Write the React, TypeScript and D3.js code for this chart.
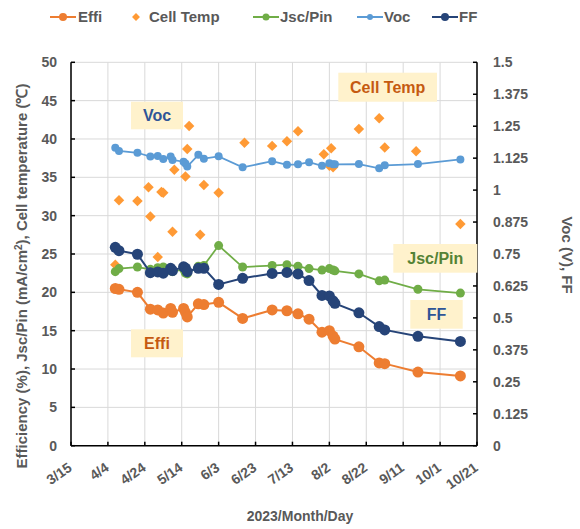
import React from 'react';
import * as d3 from 'd3';

// measurement days shared by the line series
const dates = [
  '2023-04-08', '2023-04-10', '2023-04-20', '2023-04-27', '2023-05-01', '2023-05-04', '2023-05-08',
  '2023-05-09', '2023-05-15', '2023-05-16', '2023-05-17', '2023-05-23', '2023-05-26', '2023-06-03',
  '2023-06-16', '2023-07-02', '2023-07-10', '2023-07-16', '2023-07-22', '2023-07-29', '2023-08-02',
  '2023-08-04', '2023-08-05', '2023-08-18', '2023-08-29', '2023-09-01', '2023-09-19', '2023-10-12',
];
const effi = [20.5, 20.4, 20.0, 17.8, 17.7, 17.3, 17.9, 17.4, 17.9, 17.4, 16.8, 18.5, 18.4, 18.7,
  16.6, 17.7, 17.6, 17.2, 16.5, 14.8, 15.0, 14.3, 13.9, 12.9, 10.8, 10.7, 9.6, 9.1];
const jscPin = [22.7, 23.1, 23.3, 23.0, 23.2, 23.3, 22.8, 22.7, 23.0, 22.5, 22.4, 23.4, 23.5, 26.1,
  23.3, 23.5, 23.6, 23.4, 23.1, 22.9, 23.1, 22.9, 22.8, 22.4, 21.5, 21.6, 20.4, 19.9];
const voc = [1.166, 1.153, 1.146, 1.131, 1.133, 1.122, 1.131, 1.118, 1.111, 1.104, 1.092, 1.138, 1.123, 1.132,
  1.089, 1.113, 1.099, 1.101, 1.109, 1.095, 1.105, 1.101, 1.101, 1.102, 1.085, 1.097, 1.102, 1.120];
const ff = [0.776, 0.763, 0.749, 0.677, 0.680, 0.675, 0.694, 0.685, 0.700, 0.695, 0.681, 0.694, 0.694, 0.631,
  0.655, 0.674, 0.678, 0.672, 0.646, 0.588, 0.586, 0.567, 0.557, 0.520, 0.466, 0.453, 0.428, 0.408];

// cell temperature (markers only)
const tempDates = [
  '2023-04-08', '2023-04-10', '2023-04-20', '2023-04-26', '2023-04-27', '2023-05-01', '2023-05-03',
  '2023-05-04', '2023-05-09', '2023-05-10', '2023-05-16', '2023-05-17', '2023-05-18', '2023-05-24',
  '2023-05-26', '2023-06-03', '2023-06-17', '2023-07-02', '2023-07-10', '2023-07-16', '2023-07-30',
  '2023-08-02', '2023-08-03', '2023-08-04', '2023-08-18', '2023-08-29', '2023-09-01', '2023-09-18',
  '2023-10-12',
];
const cellTemp = [23.6, 32.0, 31.9, 33.7, 29.9, 24.6, 33.1, 33.0, 27.9, 36.0, 35.1, 38.7, 41.7, 27.5,
  34.0, 33.0, 39.5, 39.1, 39.7, 41.0, 38.0, 36.5, 38.8, 36.3, 41.3, 42.7, 38.9, 38.4, 28.9];

const xTickDates = ['2023-03-15', '2023-04-04', '2023-04-24', '2023-05-14', '2023-06-03', '2023-06-23',
  '2023-07-13', '2023-08-02', '2023-08-22', '2023-09-11', '2023-10-01', '2023-10-21'];
const xTickLabels = ['3/15', '4/4', '4/24', '5/14', '6/3', '6/23', '7/13', '8/2', '8/22', '9/11', '10/1', '10/21'];
const leftTicks = [0, 5, 10, 15, 20, 25, 30, 35, 40, 45, 50];
const rightTicks = [0, 0.125, 0.25, 0.375, 0.5, 0.625, 0.75, 0.875, 1, 1.125, 1.25, 1.375, 1.5];

const parse = d3.utcParse('%Y-%m-%d');
const FONT = "'Liberation Sans', Arial, sans-serif";
const GRAY = '#595959';

const C = {
  effi: '#ed7d31',
  temp: '#ff9a35',
  jsc: '#70ad47',
  voc: '#5b9bd5',
  ff: '#264478',
};

const App = () => {
  const left = 71, right = 477, top = 62.3, bottom = 445.7;

  const x = d3.scaleUtc()
    .domain([parse(xTickDates[0])!, parse(xTickDates[xTickDates.length - 1])!])
    .range([left, right]);
  const yL = d3.scaleLinear().domain([0, 50]).range([bottom, top]);
  const yR = d3.scaleLinear().domain([0, 1.5]).range([bottom, top]);

  const xs = dates.map(d => x(parse(d)!));

  const series = [
    { key: 'effi', vals: effi, y: yL, color: C.effi, r: 5.5, w: 2 },
    { key: 'jsc', vals: jscPin, y: yL, color: C.jsc, r: 4.5, w: 1.75 },
    { key: 'voc', vals: voc, y: yR, color: C.voc, r: 4, w: 1.75 },
    { key: 'ff', vals: ff, y: yR, color: C.ff, r: 5.5, w: 2 },
  ];

  const diamond = d3.symbol().type(d3.symbolDiamond2).size(70)();

  const boxes = [
    { text: 'Voc', x: 131, y: 101.7, w: 52, h: 27.6, color: '#2f5597' },
    { text: 'Cell Temp', x: 338.3, y: 72.7, w: 98.7, h: 29, color: '#c55a11' },
    { text: 'Effi', x: 131, y: 329.3, w: 52, h: 28, color: '#c55a11' },
    { text: 'Jsc/Pin', x: 393.3, y: 244, w: 84, h: 28.7, color: '#548235' },
    { text: 'FF', x: 410.3, y: 300, w: 52.4, h: 28.7, color: '#2f5597' },
  ];

  return (
    <svg width={580} height={529} style={{ position: 'absolute', left: 0, top: 0, background: '#fff' }}
      fontFamily={FONT} fontWeight="bold">
      {/* grid */}
      {leftTicks.map(t => (
        <line key={'gh' + t} x1={left} x2={right} y1={yL(t)} y2={yL(t)} stroke="#d9d9d9" strokeWidth={1} />
      ))}
      {xTickDates.map(d => (
        <line key={'gv' + d} x1={x(parse(d)!)} x2={x(parse(d)!)} y1={top} y2={bottom} stroke="#d9d9d9" strokeWidth={1} />
      ))}

      {/* axes */}
      <line x1={left} x2={left} y1={top} y2={bottom} stroke="#000" strokeWidth={1.5} />
      <line x1={right} x2={right} y1={top} y2={bottom} stroke="#000" strokeWidth={1.5} />
      <line x1={left} x2={right} y1={bottom} y2={bottom} stroke="#000" strokeWidth={1.5} />
      {leftTicks.map(t => (
        <g key={'lt' + t}>
          <line x1={left} x2={left + 4} y1={yL(t)} y2={yL(t)} stroke="#000" strokeWidth={1.5} />
          <text x={57} y={yL(t)} dy="0.35em" textAnchor="end" fontSize={14} fill={GRAY}>{t}</text>
        </g>
      ))}
      {rightTicks.map(t => (
        <g key={'rt' + t}>
          <line x1={right - 4} x2={right} y1={yR(t)} y2={yR(t)} stroke="#000" strokeWidth={1.5} />
          <text x={493} y={yR(t)} dy="0.35em" textAnchor="start" fontSize={14} fill={GRAY}>{String(t)}</text>
        </g>
      ))}
      {xTickDates.map((d, i) => {
        const px = x(parse(d)!);
        return (
          <g key={'xt' + d}>
            <line x1={px} x2={px} y1={bottom} y2={bottom - 4} stroke="#000" strokeWidth={1.5} />
            <text transform={`translate(${px + 2},${bottom + 24}) rotate(-35)`} textAnchor="end"
              fontSize={14} fill={GRAY}>{xTickLabels[i]}</text>
          </g>
        );
      })}

      {/* axis titles */}
      <text x={300} y={521} textAnchor="middle" fontSize={14} fill={GRAY}>2023/Month/Day</text>
      <text transform="translate(27,276) rotate(-90)" textAnchor="middle" fontSize={15} fill={GRAY}>
        Efficiency (%), Jsc/Pin (mA/cm<tspan dy={-5} fontSize={10}>2</tspan><tspan dy={5}>), Cell temperature (℃)</tspan>
      </text>
      <text transform="translate(562,255) rotate(90)" textAnchor="middle" fontSize={15} fill={GRAY}>Voc (V), FF</text>

      {/* cell temperature markers */}
      {tempDates.map((d, i) => (
        <path key={'ct' + i} d={diamond!} fill={C.temp}
          transform={`translate(${x(parse(d)!)},${yL(cellTemp[i])})`} />
      ))}

      {/* line series */}
      {series.map(s => {
        const line = d3.line<number>().x((_, i) => xs[i]).y(v => s.y(v));
        return (
          <g key={s.key}>
            <path d={line(s.vals)!} fill="none" stroke={s.color} strokeWidth={s.w} />
            {s.vals.map((v, i) => (
              <circle key={i} cx={xs[i]} cy={s.y(v)} r={s.r} fill={s.color} />
            ))}
          </g>
        );
      })}

      {/* annotation boxes */}
      {boxes.map(b => (
        <g key={'b' + b.text}>
          <rect x={b.x} y={b.y} width={b.w} height={b.h} fill="#fff2cc" />
          <text x={b.x + b.w / 2} y={b.y + b.h / 2} dy="0.36em" textAnchor="middle" fontSize={16} fill={b.color}>{b.text}</text>
        </g>
      ))}

      {/* legend */}
      <g fontSize={15} fill={GRAY}>
        <line x1={50} x2={76} y1={17} y2={17} stroke={C.effi} strokeWidth={2} />
        <circle cx={63} cy={17} r={4} fill={C.effi} />
        <text x={78} y={22}>Effi</text>
        <path d={d3.symbol().type(d3.symbolDiamond2).size(40)()!} fill={C.temp} transform="translate(136,17)" />
        <text x={149} y={22}>Cell Temp</text>
        <line x1={253} x2={279} y1={17} y2={17} stroke={C.jsc} strokeWidth={2} />
        <circle cx={266} cy={17} r={3.5} fill={C.jsc} />
        <text x={280} y={22}>Jsc/Pin</text>
        <line x1={357} x2={383} y1={17} y2={17} stroke={C.voc} strokeWidth={2} />
        <circle cx={370} cy={17} r={3} fill={C.voc} />
        <text x={384} y={22}>Voc</text>
        <line x1={432} x2={458} y1={17} y2={17} stroke={C.ff} strokeWidth={2} />
        <circle cx={445} cy={17} r={4} fill={C.ff} />
        <text x={459} y={22}>FF</text>
      </g>
    </svg>
  );
};

export default App;
